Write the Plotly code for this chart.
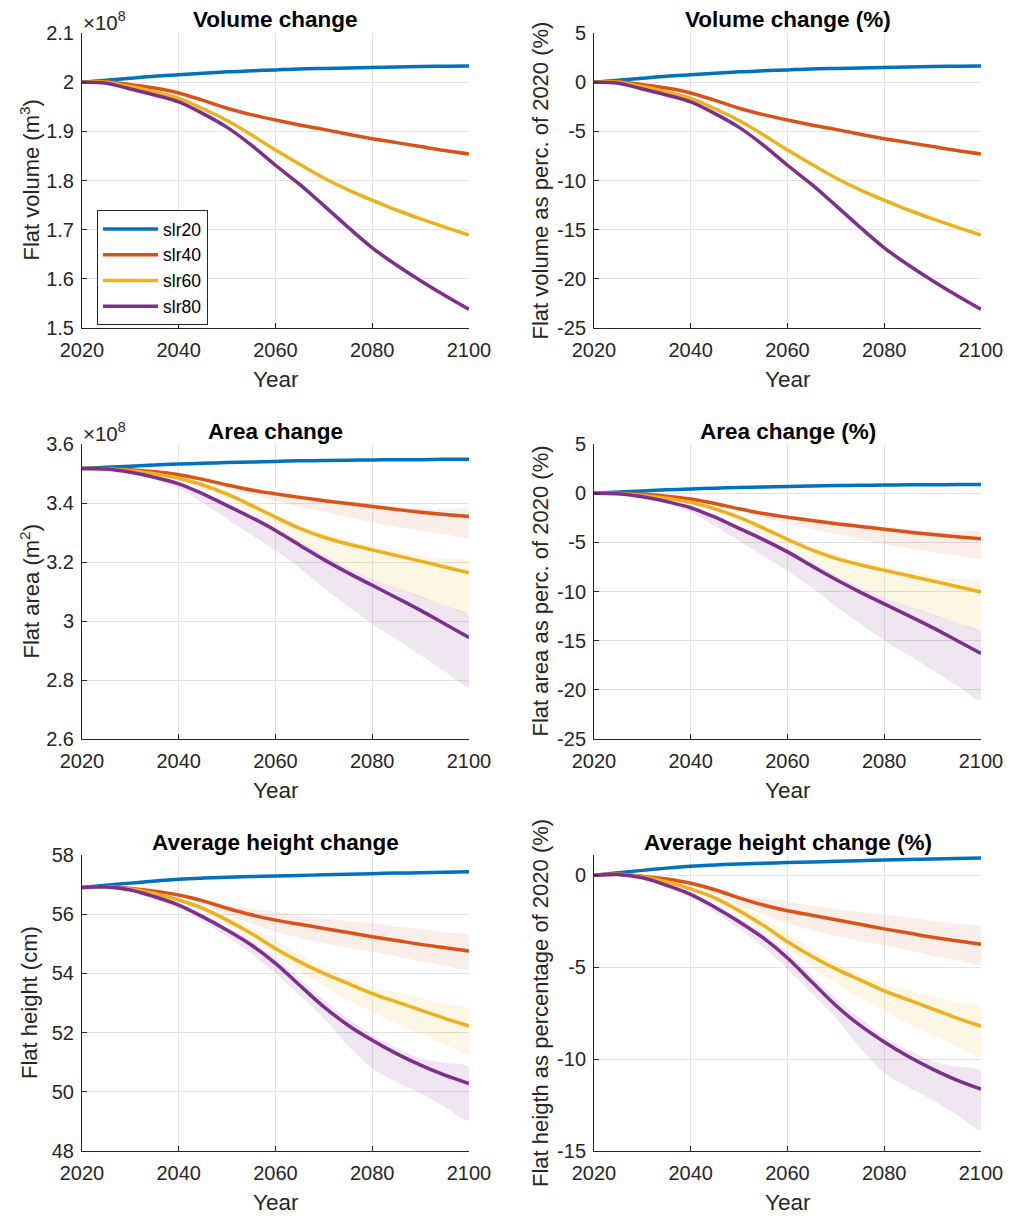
import plotly.graph_objects as go

W, H = 1018, 1216
OFF = 8  # page body margin in the browser; compensate so the layout lands where intended

years = list(range(2020, 2101, 5))
scenarios = ["slr20", "slr40", "slr60", "slr80"]
colors = ["#0072BD", "#D95319", "#EDB120", "#7E2F8E"]
band_colors = ["rgba(0,114,189,0.10)", "rgba(217,83,25,0.10)",
               "rgba(237,177,32,0.12)", "rgba(126,47,142,0.12)"]

# ---- Volume (x 1e8 m^3) ----
vol_slr20 = [2.000, 2.004, 2.008, 2.012, 2.015, 2.018, 2.021, 2.023, 2.025, 2.027, 2.028, 2.029, 2.030, 2.031, 2.032, 2.0325, 2.033]
vol_slr40 = [2.000, 2.001, 1.995, 1.988, 1.978, 1.963, 1.947, 1.934, 1.923, 1.913, 1.904, 1.894, 1.885, 1.877, 1.869, 1.861, 1.854]
vol_slr60 = [2.000, 2.000, 1.991, 1.980, 1.967, 1.946, 1.922, 1.893, 1.862, 1.833, 1.805, 1.781, 1.760, 1.740, 1.722, 1.705, 1.689]
vol_slr80 = [2.000, 1.998, 1.986, 1.974, 1.960, 1.936, 1.908, 1.872, 1.831, 1.792, 1.749, 1.705, 1.663, 1.628, 1.596, 1.566, 1.538]

# ---- Area (x 1e8 m^2) ----
area_slr20 = [3.517, 3.521, 3.525, 3.529, 3.532, 3.535, 3.537, 3.539, 3.541, 3.543, 3.544, 3.545, 3.546, 3.547, 3.547, 3.548, 3.548]
area_slr40 = [3.517, 3.517, 3.513, 3.506, 3.496, 3.480, 3.461, 3.444, 3.431, 3.419, 3.408, 3.398, 3.388, 3.378, 3.369, 3.361, 3.354]
area_slr60 = [3.517, 3.516, 3.509, 3.499, 3.484, 3.461, 3.430, 3.392, 3.352, 3.314, 3.284, 3.261, 3.241, 3.222, 3.203, 3.183, 3.163]
area_slr80 = [3.517, 3.515, 3.504, 3.487, 3.465, 3.431, 3.391, 3.351, 3.307, 3.257, 3.208, 3.163, 3.121, 3.079, 3.036, 2.990, 2.944]
area_slr40_hi = [3.517, 3.517, 3.514, 3.508, 3.499, 3.485, 3.467, 3.451, 3.438, 3.427, 3.417, 3.407, 3.397, 3.389, 3.383, 3.379, 3.377]
area_slr40_lo = [3.517, 3.516, 3.511, 3.502, 3.490, 3.472, 3.452, 3.430, 3.408, 3.389, 3.370, 3.352, 3.335, 3.319, 3.305, 3.294, 3.284]
area_slr60_hi = [3.517, 3.516, 3.510, 3.501, 3.488, 3.467, 3.438, 3.402, 3.362, 3.326, 3.298, 3.276, 3.256, 3.238, 3.222, 3.211, 3.203]
area_slr60_lo = [3.517, 3.515, 3.507, 3.495, 3.478, 3.450, 3.412, 3.366, 3.318, 3.268, 3.217, 3.178, 3.143, 3.110, 3.080, 3.052, 3.025]
area_slr80_hi = [3.517, 3.515, 3.505, 3.489, 3.468, 3.436, 3.398, 3.360, 3.317, 3.270, 3.222, 3.180, 3.143, 3.112, 3.085, 3.052, 3.019]
area_slr80_lo = [3.517, 3.514, 3.500, 3.480, 3.448, 3.400, 3.346, 3.292, 3.239, 3.180, 3.112, 3.050, 2.990, 2.938, 2.884, 2.830, 2.778]

# ---- Height (cm) ----
hgt_slr20 = [56.90, 56.98, 57.05, 57.12, 57.18, 57.22, 57.25, 57.27, 57.29, 57.31, 57.33, 57.35, 57.37, 57.39, 57.40, 57.42, 57.43]
hgt_slr40 = [56.90, 56.93, 56.87, 56.78, 56.65, 56.45, 56.20, 55.98, 55.80, 55.66, 55.52, 55.38, 55.24, 55.11, 54.98, 54.87, 54.76]
hgt_slr60 = [56.90, 56.93, 56.85, 56.70, 56.48, 56.20, 55.80, 55.35, 54.84, 54.39, 54.00, 53.66, 53.32, 53.04, 52.76, 52.48, 52.23]
hgt_slr80 = [56.90, 56.92, 56.82, 56.59, 56.31, 55.91, 55.46, 54.96, 54.34, 53.60, 52.87, 52.25, 51.74, 51.29, 50.90, 50.56, 50.28]
hgt_slr40_hi = [56.90, 56.93, 56.88, 56.80, 56.69, 56.52, 56.31, 56.18, 56.08, 55.96, 55.85, 55.77, 55.69, 55.59, 55.49, 55.39, 55.29]
hgt_slr40_lo = [56.90, 56.93, 56.86, 56.75, 56.60, 56.32, 55.97, 55.68, 55.41, 55.20, 55.02, 54.87, 54.73, 54.57, 54.41, 54.27, 54.14]
hgt_slr60_hi = [56.90, 56.93, 56.86, 56.73, 56.53, 56.28, 55.93, 55.55, 55.13, 54.62, 54.20, 53.85, 53.55, 53.34, 53.15, 52.96, 52.79]
hgt_slr60_lo = [56.90, 56.93, 56.84, 56.67, 56.42, 56.08, 55.62, 55.12, 54.62, 54.07, 53.55, 53.10, 52.70, 52.31, 51.95, 51.61, 51.29]
hgt_slr80_hi = [56.90, 56.92, 56.83, 56.62, 56.36, 55.99, 55.57, 55.10, 54.52, 53.82, 53.10, 52.47, 51.91, 51.48, 51.14, 50.97, 50.84]
hgt_slr80_lo = [56.90, 56.91, 56.78, 56.50, 56.20, 55.75, 55.24, 54.67, 54.00, 53.26, 52.48, 51.57, 50.78, 50.33, 49.94, 49.49, 49.04]

vol = [vol_slr20, vol_slr40, vol_slr60, vol_slr80]
area = [area_slr20, area_slr40, area_slr60, area_slr80]
hgt = [hgt_slr20, hgt_slr40, hgt_slr60, hgt_slr80]
area_bands = [None, (area_slr40_hi, area_slr40_lo), (area_slr60_hi, area_slr60_lo), (area_slr80_hi, area_slr80_lo)]
hgt_bands = [None, (hgt_slr40_hi, hgt_slr40_lo), (hgt_slr60_hi, hgt_slr60_lo), (hgt_slr80_hi, hgt_slr80_lo)]


def pct(series, ref):
    return [(v / ref - 1.0) * 100.0 for v in series]


def pct_band(band, ref):
    if band is None:
        return None
    return (pct(band[0], ref), pct(band[1], ref))


FONT = "Liberation Sans, Arial, Helvetica, sans-serif"
TXT = "#262626"
GRID = "#e2e2e2"


def px(v):
    return (v - OFF) / W


def py(v):
    return 1 - (v - OFF) / H


# axes pixel boxes (page coordinates)
cols = [(82, 469), (594, 981)]
rows = [(33, 328), (444, 739), (855, 1151)]

specs = [
    dict(title="Volume change", ylabel="Flat volume (m<sup>3</sup>)", rng=[1.5, 2.1],
         tv=[1.5, 1.6, 1.7, 1.8, 1.9, 2.0, 2.1], tt=["1.5", "1.6", "1.7", "1.8", "1.9", "2", "2.1"], exp=True),
    dict(title="Volume change (%)", ylabel="Flat volume as perc. of 2020 (%)", rng=[-25, 5],
         tv=[-25, -20, -15, -10, -5, 0, 5], tt=["-25", "-20", "-15", "-10", "-5", "0", "5"], exp=False),
    dict(title="Area change", ylabel="Flat area (m<sup>2</sup>)", rng=[2.6, 3.6],
         tv=[2.6, 2.8, 3.0, 3.2, 3.4, 3.6], tt=["2.6", "2.8", "3", "3.2", "3.4", "3.6"], exp=True),
    dict(title="Area change (%)", ylabel="Flat area as perc. of 2020 (%)", rng=[-25, 5],
         tv=[-25, -20, -15, -10, -5, 0, 5], tt=["-25", "-20", "-15", "-10", "-5", "0", "5"], exp=False),
    dict(title="Average height change", ylabel="Flat height (cm)", rng=[48, 58],
         tv=[48, 50, 52, 54, 56, 58], tt=["48", "50", "52", "54", "56", "58"], exp=False),
    dict(title="Average height change (%)", ylabel="Flat heigth as percentage of 2020 (%)", rng=[-15, 1.1],
         tv=[-15, -10, -5, 0], tt=["-15", "-10", "-5", "0"], exp=False),
]

panel_data = [
    [(vol[i], None) for i in range(4)],
    [(pct(vol[i], vol[i][0]), None) for i in range(4)],
    [(area[i], area_bands[i]) for i in range(4)],
    [(pct(area[i], area[i][0]), pct_band(area_bands[i], area[i][0])) for i in range(4)],
    [(hgt[i], hgt_bands[i]) for i in range(4)],
    [(pct(hgt[i], hgt[i][0]), pct_band(hgt_bands[i], hgt[i][0])) for i in range(4)],
]

fig = go.Figure()
annotations = []
layout_axes = {}

k = 0
for r in range(3):
    for c in range(2):
        n = k + 1
        xa = "x" if n == 1 else f"x{n}"
        ya = "y" if n == 1 else f"y{n}"
        xkey = "xaxis" if n == 1 else f"xaxis{n}"
        ykey = "yaxis" if n == 1 else f"yaxis{n}"
        l, rr = cols[c]
        t, b = rows[r]
        sp = specs[k]

        for i in range(4):
            line, band = panel_data[k][i]
            if band is not None:
                hi, lo = band
                fig.add_trace(go.Scatter(
                    x=years + years[::-1], y=hi + lo[::-1], fill="toself",
                    fillcolor=band_colors[i], line=dict(width=0, shape="spline", smoothing=0.8),
                    mode="lines", hoverinfo="skip", showlegend=False, xaxis=xa, yaxis=ya))
        for i in range(4):
            line, band = panel_data[k][i]
            fig.add_trace(go.Scatter(
                x=years, y=line, mode="lines", name=scenarios[i],
                line=dict(color=colors[i], width=3.5, shape="spline", smoothing=1.0),
                showlegend=(k == 0), xaxis=xa, yaxis=ya))

        common = dict(showgrid=True, gridcolor=GRID, gridwidth=1, zeroline=False,
                      showline=True, linecolor=TXT, linewidth=1, mirror=False,
                      ticks="inside", ticklen=5, tickcolor=TXT, tickwidth=1,
                      automargin=False,
                      tickfont=dict(family=FONT, size=20, color=TXT))
        layout_axes[xkey] = dict(
            domain=[px(l), px(rr)], anchor=ya, range=[2020, 2100],
            tickvals=[2020, 2040, 2060, 2080, 2100],
            ticktext=["2020", "2040", "2060", "2080", "2100"],
            ticklabelstandoff=4, **common)
        layout_axes[ykey] = dict(
            domain=[py(b), py(t)], anchor=xa, range=sp["rng"],
            tickvals=sp["tv"], ticktext=sp["tt"], ticklabelstandoff=3, **common)

        cx = px((l + rr) / 2)
        cy = py((t + b) / 2)
        annotations.append(dict(text=f"<b>{sp['title']}</b>", x=cx, y=py(t - 13),
                                xref="paper", yref="paper", xanchor="center", yanchor="middle",
                                showarrow=False, font=dict(family=FONT, size=22.5, color="#000000")))
        annotations.append(dict(text="Year", x=cx, y=py(b + 51),
                                xref="paper", yref="paper", xanchor="center", yanchor="middle",
                                showarrow=False, font=dict(family=FONT, size=22.5, color=TXT)))
        ytx = 29 if c == 0 else 540
        annotations.append(dict(text=sp["ylabel"], x=px(ytx), y=cy, textangle=-90,
                                xref="paper", yref="paper", xanchor="center", yanchor="middle",
                                showarrow=False, font=dict(family=FONT, size=22, color=TXT)))
        if sp["exp"]:
            annotations.append(dict(text="×10<sup>8</sup>", x=px(l), y=py(t + 2),
                                    xref="paper", yref="paper", xanchor="left", yanchor="bottom",
                                    showarrow=False, borderpad=0,
                                    font=dict(family=FONT, size=20.5, color=TXT)))
        k += 1

fig.update_layout(
    template="none",
    width=W, height=H, margin=dict(l=0, r=0, t=0, b=0, pad=0),
    paper_bgcolor="white", plot_bgcolor="white",
    showlegend=True,
    legend=dict(x=px(97), y=py(210), xanchor="left", yanchor="top",
                bgcolor="white", bordercolor=TXT, borderwidth=1,
                font=dict(family=FONT, size=17.5, color="#000000"), tracegroupgap=0,
                itemwidth=55),
    annotations=annotations,
    **layout_axes)

fig.write_html("out.html")
